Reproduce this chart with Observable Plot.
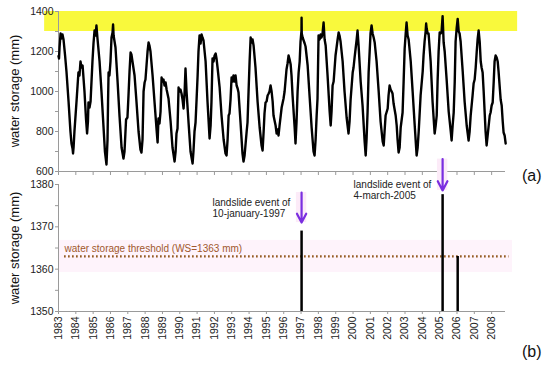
<!DOCTYPE html>
<html><head><meta charset="utf-8">
<script src="https://cdn.jsdelivr.net/npm/d3@7"></script>
<script src="https://cdn.jsdelivr.net/npm/@observablehq/plot@0.6"></script>
<style>
body{margin:0;background:#fff;font-family:"Liberation Sans",Arial,sans-serif;}
#wrap{position:relative;width:550px;height:371px;overflow:hidden;background:#fff}
#wrap svg{position:absolute;left:0}
.ytitle{position:absolute;font-size:13px;color:#111;white-space:nowrap;transform:translate(-50%,-50%) rotate(-90deg)}
.panel{position:absolute;font-size:16px;color:#111;transform:translate(0,-50%)}
</style></head>
<body><div id="wrap"></div>
<script>
// ---- data ----
const wsYear = [
1983.00,1983.03,1983.06,1983.12,1983.17,1983.23,1983.29,1983.38,1983.46,1983.58,1983.69,1983.75,1983.81,1983.84,1983.87,1983.92,
1984.04,1984.15,1984.21,1984.27,1984.33,1984.39,1984.50,1984.59,1984.65,1984.70,1984.73,1984.79,1984.85,1984.96,
1985.02,1985.08,1985.14,1985.19,1985.25,1985.37,1985.48,1985.60,1985.68,1985.77,1985.83,1985.86,1985.89,1985.94,
1986.00,1986.06,1986.12,1986.15,1986.18,1986.29,1986.41,1986.52,1986.64,1986.75,1986.81,1986.90,1986.98,
1987.04,1987.10,1987.16,1987.21,1987.27,1987.39,1987.50,1987.62,1987.73,1987.79,1987.85,1987.91,1987.97,
1988.02,1988.08,1988.14,1988.20,1988.25,1988.31,1988.43,1988.54,1988.66,1988.72,1988.77,1988.83,1988.89,1988.95,
1989.00,1989.06,1989.12,1989.18,1989.24,1989.35,1989.47,1989.58,1989.70,1989.76,1989.81,1989.87,1989.93,1989.99,
1990.04,1990.10,1990.16,1990.22,1990.28,1990.33,1990.39,1990.51,1990.62,1990.74,1990.79,1990.85,1990.91,1990.97,
1991.03,1991.08,1991.14,1991.20,1991.26,1991.31,1991.37,1991.49,1991.60,1991.72,1991.78,1991.83,1991.89,1991.95,
1992.01,1992.07,1992.12,1992.18,1992.30,1992.41,1992.53,1992.64,1992.70,1992.76,1992.82,1992.87,1992.93,1992.99,
1993.05,1993.10,1993.16,1993.22,1993.28,1993.34,1993.39,1993.51,1993.62,1993.68,1993.74,1993.86,1993.91,1993.97,
1994.03,1994.09,1994.14,1994.20,1994.26,1994.37,1994.49,1994.61,1994.72,1994.78,1994.84,1994.89,1994.95,
1995.01,1995.07,1995.13,1995.18,1995.24,1995.30,1995.36,1995.41,1995.53,1995.59,1995.65,1995.70,1995.76,1995.88,1995.99,
1996.05,1996.11,1996.16,1996.22,1996.28,1996.34,1996.40,1996.45,1996.51,1996.63,1996.68,1996.74,1996.80,1996.86,1996.92,1996.97,
1997.025,1997.03,1997.04,1997.09,1997.15,1997.21,1997.26,1997.38,1997.49,1997.61,1997.72,1997.78,1997.84,1997.90,1997.95,
1998.01,1998.07,1998.13,1998.18,1998.24,1998.30,1998.36,1998.42,1998.53,1998.65,1998.71,1998.76,1998.82,1998.88,1998.99,
1999.05,1999.11,1999.17,1999.22,1999.28,1999.40,1999.51,1999.63,1999.74,1999.80,1999.86,1999.98,
2000.03,2000.09,2000.15,2000.21,2000.26,2000.32,2000.44,2000.55,2000.67,2000.73,2000.78,2000.84,2000.90,2000.96,
2001.01,2001.07,2001.13,2001.19,2001.25,2001.36,2001.48,2001.59,2001.71,2001.77,2001.82,2001.88,
2002.00,2002.05,2002.11,2002.17,2002.23,2002.28,2002.34,2002.46,2002.52,2002.57,2002.63,2002.69,2002.75,2002.86,2002.92,2002.98,
2003.04,2003.09,2003.15,2003.21,2003.33,2003.44,2003.56,2003.67,2003.73,2003.79,2003.90,
2004.02,2004.07,2004.13,2004.19,2004.22,2004.25,2004.31,2004.36,2004.48,2004.59,2004.71,2004.77,2004.83,2004.88,2004.94,
2005.00,2005.06,2005.11,2005.17,2005.23,2005.29,2005.41,2005.52,2005.64,2005.69,2005.75,2005.81,2005.87,2005.92,2005.98,
2006.04,2006.10,2006.15,2006.21,2006.33,2006.44,2006.56,2006.67,2006.73,2006.79,2006.90,2006.96,
2007.02,2007.08,2007.14,2007.19,2007.25,2007.31,2007.37,2007.42,2007.48,2007.54,2007.65,2007.71,2007.77,2007.89,2007.94,
2008.00,2008.06,2008.12,2008.17,2008.23,2008.29,2008.35,2008.40,2008.52,2008.58,2008.64,2008.69,2008.75,2008.81
];
const wsValue = [
1177,1165,1220,1290,1265,1285,1260,1180,1100,950,800,740,715,690,720,800,
950,1095,1080,1150,1120,1130,1000,860,790,850,945,920,950,1150,
1240,1305,1280,1330,1265,1150,1000,820,700,635,760,950,1095,1080,
1150,1270,1295,1335,1280,1220,1050,880,720,665,700,860,870,
980,1100,1195,1185,1150,1080,950,800,710,695,760,1000,1045,
1060,1130,1200,1245,1230,1200,1080,950,810,745,865,840,900,1070,
1050,1060,1030,1045,1010,965,850,720,650,700,790,815,1020,1000,
1010,990,960,915,1000,1115,1000,840,700,640,700,800,845,960,
1080,1200,1280,1240,1285,1270,1255,1150,950,765,830,950,1165,1150,
1180,1190,1165,1120,1020,880,760,690,680,760,880,890,960,1070,
1050,1080,1050,1080,1030,1015,995,840,690,650,680,800,845,1000,
1150,1270,1245,1260,1230,1120,950,820,730,705,800,890,945,
950,980,990,1000,1030,1000,950,880,830,790,810,780,830,920,965,
1000,1060,1110,1140,1180,1160,1135,1080,980,820,740,850,1000,1095,1150,1250,
1305,1369,1290,1270,1255,1240,1225,1130,980,820,700,680,760,880,965,
1280,1260,1285,1270,1290,1345,1260,1230,1080,900,830,900,1030,1050,1180,
1220,1260,1295,1280,1250,1150,1000,870,790,850,960,1095,
1120,1170,1215,1260,1305,1230,1050,930,750,680,760,900,1095,1200,
1290,1330,1290,1270,1245,1150,1000,850,750,730,800,880,
915,980,1030,1010,1000,990,940,880,830,760,695,720,820,895,1050,1215,
1290,1345,1280,1260,1150,1000,830,680,720,800,980,
1100,1180,1250,1300,1340,1315,1290,1290,1150,950,790,830,880,1050,1200,
1295,1290,1300,1377,1245,1200,1050,900,800,755,830,895,1050,1250,1315,
1363,1300,1290,1250,1100,950,830,755,800,880,980,1040,
1060,1120,1200,1260,1305,1250,1150,1120,1095,1000,800,730,780,880,895,
930,945,1050,1150,1180,1170,1150,1100,960,930,850,795,780,740
];
const eventYear = [1997.03, 2005.17, 2006.04];
const eventValue = [1369, 1377.6, 1363];
const threshold = 1363;
const thresholdLabel = "water storage threshold (WS=1363 mm)";
const annoYear = [1991.89, 2000.03];
const annoValue = [1374.4, 1378.7];
const annoText = ["landslide event of\n10-january-1997", "landslide event of\n4-march-2005"];
const arrowYear = [1997.03, 2005.17];
const arrowFrom = [1378.1, 1386.0];
const arrowTo = [1371.0, 1378.6];
const yearTicks = [1983,1984,1985,1986,1987,1988,1989,1990,1991,1992,1993,1994,1995,1996,1997,1998,1999,2000,2001,2002,2003,2004,2005,2006,2007,2008];
const topTicks = [600,800,1000,1200,1400];
const topMinor = [700,900,1100,1300];
const botTicks = [1350,1360,1370,1380];
const botMinor = [1355,1365,1375];
const yTitle = "water storage (mm)";
const panelLabels = ["(a)", "(b)"];

// ---- build ----
const ws = wsYear.map((t, i) => ({t, v: wsValue[i]}));
const events = eventYear.map((t, i) => ({t, v: eventValue[i]}));
const annos = annoText.map((s, i) => ({s, t: annoYear[i], v: annoValue[i]}));
const arrows = arrowYear.map((t, i) => ({t, a: arrowFrom[i], b: arrowTo[i]}));
const xDomain = [1983, 2008.8];
const axisGray = "#9a9a9a";
const font = "'Liberation Sans', Arial, sans-serif";
const plain = d => String(d);

const topPlot = Plot.plot({
  width: 550, height: 180,
  marginTop: 11, marginBottom: 9, marginLeft: 58, marginRight: 45,
  style: {background: "transparent", overflow: "visible", fontFamily: font, fontSize: "10.5px", color: "#222"},
  x: {domain: xDomain}, y: {domain: [600, 1400]},
  marks: [
    Plot.rect([0], {x1: 1982.2, x2: 2009.5, y1: 1300, y2: 1400, fill: "#f9f93c"}),
    Plot.axisY({ticks: topMinor, tickFormat: () => "", tickSize: 3, stroke: axisGray, label: null}),
    Plot.axisY({ticks: topTicks, tickFormat: plain, tickSize: 3, tickPadding: 2, stroke: axisGray, fill: "#222", label: null}),
    Plot.axisX({ticks: yearTicks, tickFormat: () => "", tickSize: 4, stroke: axisGray, label: null}),
    Plot.ruleX([1983], {stroke: axisGray}),
    Plot.ruleY([600], {stroke: axisGray}),
    Plot.line(ws, {x: "t", y: "v", stroke: "#000", strokeWidth: 2.4, strokeLinejoin: "round"})
  ]
});
topPlot.style.top = "0px";

const botPlot = Plot.plot({
  width: 550, height: 231,
  marginTop: 44, marginBottom: 60, marginLeft: 58, marginRight: 45,
  style: {background: "transparent", overflow: "visible", fontFamily: font, fontSize: "10.5px", color: "#222"},
  x: {domain: xDomain}, y: {domain: [1350, 1380]},
  marks: [
    Plot.rect([0], {x1: 1983, x2: 2009.2, y1: 1359.2, y2: 1366.8, fill: "#fef3fb"}),
    Plot.rect(arrows, {x1: d => d.t - 0.3, x2: d => d.t + 0.3, y1: "b", y2: "a", fill: "#fcebf8"}),
    Plot.axisY({ticks: botMinor, tickFormat: () => "", tickSize: 3, stroke: axisGray, label: null}),
    Plot.axisY({ticks: botTicks, tickFormat: plain, tickSize: 3, tickPadding: 2, stroke: axisGray, fill: "#222", label: null}),
    Plot.axisX({ticks: yearTicks, tickFormat: plain, tickRotate: -90, tickSize: 3, tickPadding: 2, stroke: axisGray, fill: "#222", label: null}),
    Plot.ruleX([1983], {stroke: axisGray}),
    Plot.ruleY([1350], {stroke: axisGray}),
    Plot.ruleY([threshold], {x1: 1983.35, x2: 2009.0, stroke: "#8f5216", strokeWidth: 2.2, strokeDasharray: "1.6,2.4"}),
    Plot.text([thresholdLabel], {x: 1983.35, y: 1364.7, text: d => d, textAnchor: "start", fill: "#a0582c", fontSize: 10}),
    Plot.ruleX(events, {x: "t", y1: 1350, y2: "v", stroke: "#000", strokeWidth: 2.5}),
    Plot.arrow(arrows, {x1: "t", x2: "t", y1: "a", y2: "b", stroke: "#7a2ee0", strokeWidth: 2.2, headLength: 9, headAngle: 55}),
    Plot.text(annos, {x: "t", y: "v", text: "s", textAnchor: "start", lineAnchor: "middle", lineHeight: 1.1, fill: "#222", fontSize: 10})
  ]
});
botPlot.style.top = "140px";

const wrap = document.getElementById("wrap");
wrap.appendChild(topPlot);
wrap.appendChild(botPlot);

function addDiv(cls, text, left, top) {
  const d = document.createElement("div");
  d.className = cls; d.textContent = text;
  d.style.left = left + "px"; d.style.top = top + "px";
  wrap.appendChild(d);
}
addDiv("ytitle", yTitle, 14, 91);
addDiv("ytitle", yTitle, 14, 248);
addDiv("panel", panelLabels[0], 522, 176);
addDiv("panel", panelLabels[1], 522, 352);
</script>
</body></html>
